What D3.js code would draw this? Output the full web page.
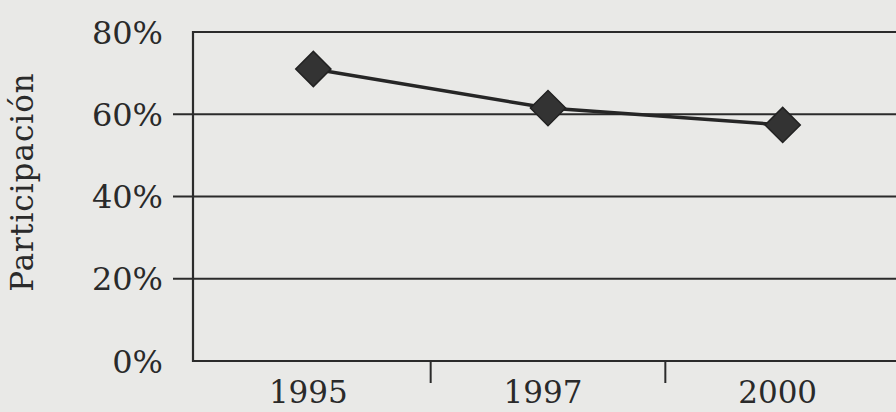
<!DOCTYPE html>
<html>
<head>
<meta charset="utf-8">
<script src="https://cdn.jsdelivr.net/npm/d3@7"></script>
<style>
  html, body { margin: 0; padding: 0; background: #e9e9e7; }
  svg { display: block; }
</style>
</head>
<body>
<div id="chart"></div>
<script>
// data
var years = ["1995", "1997", "2000"];
var participacion = [71.0, 61.5, 57.4];
var yTicks = [0, 20, 40, 60, 80];

var W = 896, H = 412;
var margin = { top: 32, right: -4, bottom: 51, left: 193 },
  width = W - margin.left - margin.right,
  height = H - margin.top - margin.bottom;

var svg = d3.select("#chart")
  .append("svg")
  .attr("width", W)
  .attr("height", H);

var g = svg.append("g")
  .attr("transform", "translate(" + margin.left + "," + margin.top + ")");

var x = d3.scaleBand().domain(years).range([3, width]).padding(0);
var y = d3.scaleLinear().domain([0, 80]).range([height, 0]);

var ink = "#2b2b2b";
var textInk = "#2a2a2a";
var serif = "'DejaVu Serif', 'Liberation Serif', serif";

// horizontal gridlines (20/40/60 stick out to the left as ticks)
g.selectAll(".grid")
  .data(yTicks)
  .enter()
  .append("line")
  .attr("x1", function (d) { return (d == 0 || d == 80) ? 0 : -20; })
  .attr("x2", width + 10)
  .attr("y1", function (d) { return y(d); })
  .attr("y2", function (d) { return y(d); })
  .attr("stroke", ink)
  .attr("stroke-width", 2.2);

// left frame
g.append("line")
  .attr("x1", 0).attr("x2", 0)
  .attr("y1", y(80) - 1).attr("y2", y(0) + 1)
  .attr("stroke", ink)
  .attr("stroke-width", 2.2);

// y labels
g.selectAll(".ylab")
  .data(yTicks)
  .enter()
  .append("text")
  .attr("x", -30)
  .attr("y", function (d) { return y(d); })
  .attr("dy", "0.36em")
  .attr("text-anchor", "end")
  .style("font-family", serif)
  .style("font-size", "32px")
  .attr("fill", textInk)
  .text(function (d) { return d + "%"; });

// x separators between categories
g.selectAll(".xsep")
  .data(years.slice(1))
  .enter()
  .append("line")
  .attr("x1", function (d) { return x(d); })
  .attr("x2", function (d) { return x(d); })
  .attr("y1", height)
  .attr("y2", height + 22)
  .attr("stroke", ink)
  .attr("stroke-width", 2);

// x labels
g.selectAll(".xlab")
  .data(years)
  .enter()
  .append("text")
  .attr("x", function (d) { return x(d) + x.bandwidth() / 2 - 5; })
  .attr("y", height + 42)
  .attr("text-anchor", "middle")
  .style("font-family", serif)
  .style("font-size", "31px")
  .attr("fill", textInk)
  .text(function (d) { return d; });

// axis title
svg.append("text")
  .attr("transform", "translate(33,182) rotate(-90)")
  .attr("text-anchor", "middle")
  .style("font-family", serif)
  .style("font-size", "31px")
  .style("letter-spacing", "1px")
  .attr("fill", textInk)
  .text("Participación");

// series line
var pts = years.map(function (d, i) { return [x(d) + x.bandwidth() / 2, y(participacion[i])]; });
g.append("path")
  .datum(pts)
  .attr("d", d3.line())
  .attr("fill", "none")
  .attr("stroke", "#262626")
  .attr("stroke-width", 3.5);

// diamond markers
g.selectAll(".dot")
  .data(pts)
  .enter()
  .append("path")
  .attr("d", d3.symbol().type(d3.symbolSquare).size(620))
  .attr("transform", function (d) { return "translate(" + d[0] + "," + d[1] + ") rotate(45)"; })
  .attr("fill", "#333")
  .attr("stroke", "#222")
  .attr("stroke-width", 1.5);
</script>
</body>
</html>
